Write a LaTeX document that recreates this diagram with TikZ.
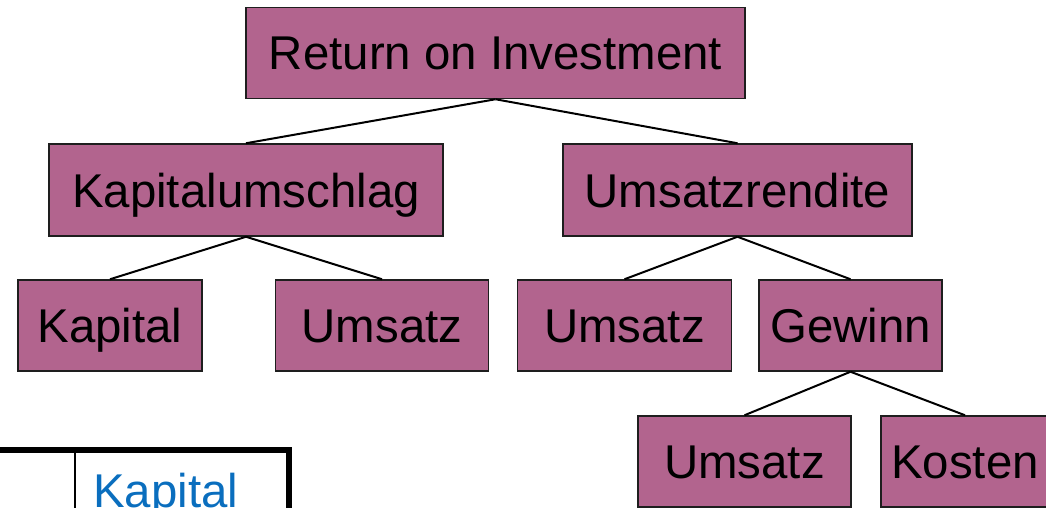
\documentclass[tikz,border=0pt]{standalone}
\usepackage{fontspec}
\setmainfont{Liberation Sans}
\definecolor{boxfill}{RGB}{178,100,142}
\definecolor{boxline}{RGB}{30,30,30}
\definecolor{headblue}{RGB}{10,110,190}
\begin{document}
\begin{tikzpicture}[x=1pt,y=-1pt,
  kbox/.style={draw=boxline, line width=1.5pt, fill=boxfill, rectangle,
    inner sep=0pt, text height=34pt, text depth=0pt,
    font=\fontsize{47.4}{56}\selectfont},
  link/.style={draw=black, line width=2pt}]
\useasboundingbox (0,0) rectangle (1046,508);
\clip (0,0) rectangle (1046,508);

% tree of ratios
\node[kbox, minimum width=499pt, minimum height=91pt] (roi) at (495.5,53) {Return on Investment};
\node[kbox, minimum width=394pt, minimum height=92pt] (ku) at (246,190) {Kapitalumschlag};
\node[kbox, minimum width=349pt, minimum height=92pt] (ur) at (737.5,190) {Umsatzrendite};
\node[kbox, minimum width=184pt, minimum height=91pt] (kap) at (110,325.5) {Kapital};
\node[kbox, minimum width=213pt, minimum height=91pt] (ums1) at (382,325.5) {Umsatz};
\node[kbox, minimum width=214pt, minimum height=91pt] (ums2) at (624.5,325.5) {Umsatz};
\node[kbox, minimum width=183pt, minimum height=91pt] (gew) at (850.5,325.5) {Gewinn};
\node[kbox, minimum width=213pt, minimum height=91pt] (ums3) at (744.5,461.5) {Umsatz};
\node[kbox, minimum width=168pt, minimum height=91pt] (kos) at (965,461.5) {Kosten};

\draw[link] (roi.south) -- (ku.north);
\draw[link] (roi.south) -- (ur.north);
\draw[link] (ku.south) -- (kap.north);
\draw[link] (ku.south) -- (ums1.north);
\draw[link] (ur.south) -- (ums2.north);
\draw[link] (ur.south) -- (gew.north);
\draw[link] (gew.south) -- (ums3.north);
\draw[link] (gew.south) -- (kos.north);

% table header
\draw[line width=6pt] (0,450) -- (292,450);
\draw[line width=6pt] (289,447) -- (289,510);
\draw[line width=2.5pt] (75,453) -- (75,510);
\node[anchor=base west, inner sep=0pt, text=headblue,
  font=\fontsize{47.4}{56}\selectfont] (head) at (93,507) {Kapital};
\end{tikzpicture}
\end{document}
